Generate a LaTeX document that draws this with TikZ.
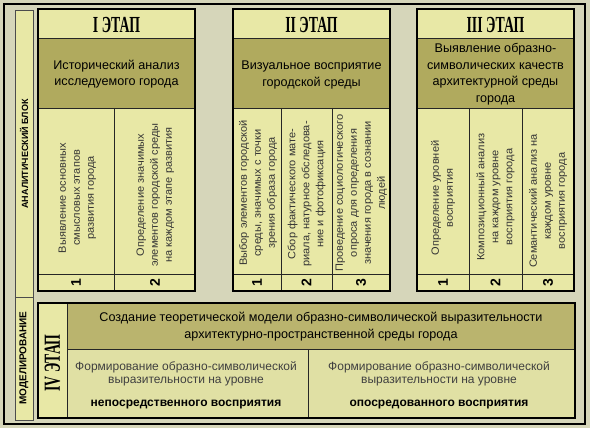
\documentclass[tikz,border=0pt]{standalone}
\usepackage{fontspec}
\setmainfont{Liberation Sans}
\newfontfamily\etapfont{Liberation Serif}
\usepackage{graphicx}
\usetikzlibrary{positioning}

\definecolor{bgcol}{RGB}{214,214,186}
\definecolor{lightcol}{RGB}{232,232,166}
\definecolor{olivecol}{RGB}{176,170,94}
\definecolor{olivelt}{RGB}{186,180,110}
\definecolor{cellcol}{RGB}{224,224,164}

\newcommand{\etaptxt}[1]{\scalebox{0.6}[1]{\etapfont\fontsize{23}{23}\selectfont\bfseries #1~ЭТАП}}
\newcommand{\vtxt}[1]{\scalebox{1.05}[1]{\begin{tabular}{@{}c@{}}#1\end{tabular}}}

\tikzset{
  panel/.style={draw=black, line width=2.2pt},
  grid/.style={draw=black!85, line width=0.9pt},
  strip/.style={fill=lightcol, draw=black!70, line width=0.7pt},
  etap/.style={inner sep=0pt},
  head/.style={align=center, font=\fontsize{12.6}{16.5}\selectfont},
  colt/.style={rotate=90, text=black!80, inner sep=0pt, font=\fontsize{10.5}{14}\selectfont},
  num/.style={rotate=90, inner sep=0pt, font=\fontsize{14}{14}\selectfont\bfseries},
  side/.style={rotate=90, inner sep=0pt, font=\fontsize{9}{9}\selectfont\bfseries},
  low/.style={align=center, text=black!75, font=\fontsize{12}{13}\selectfont}
}

\begin{document}
\begin{tikzpicture}[x=1pt, y=-1pt]
  \useasboundingbox (0,0) rectangle (590,428);
  \fill[bgcol] (0,0) rectangle (590,428);
  \draw[line width=2pt] (4,4) rectangle (585,424);

  % side strips
  \filldraw[strip] (15,10) rectangle (33,297);
  \filldraw[strip] (15,297) rectangle (33,420);
  \node[side] (analit) at (24,154) {АНАЛИТИЧЕСКИЙ БЛОК};
  \node[side, font=\fontsize{10}{10}\selectfont\bfseries] (model) at (24,358) {МОДЕЛИРОВАНИЕ};

  % I etap
  \fill[lightcol] (38,9) rectangle (195,291);
  \fill[olivecol] (38,38) rectangle (195,108);
  \draw[grid] (38,38) -- (195,38) (38,108) -- (195,108) (38,274) -- (195,274) (114,108) -- (114,291);
  \draw[panel] (38,9) rectangle (195,291);
  \node[etap] (t1) at (116.5,25) {\etaptxt{I}};
  \node[head] (h1) at (116.5,74) {Исторический анализ\\исследуемого города};
  \node[colt] (c11) at (77,198) {\vtxt{Выявление основных\\смысловых этапов\\развития города}};
  \node[colt] (c12) at (155,195) {\vtxt{Определение значимых\\элементов городской среды\\на каждом этапе развития}};
  \node[num] (n11) at (76,282.5) {1};
  \node[num] (n12) at (155,282.5) {2};

  % II etap
  \fill[lightcol] (233,9) rectangle (390,291);
  \fill[olivecol] (233,38) rectangle (390,108);
  \draw[grid] (233,38) -- (390,38) (233,108) -- (390,108) (233,274) -- (390,274);
  \foreach \x in {281,332} \draw[grid] (\x,108) -- (\x,291);
  \draw[panel] (233,9) rectangle (390,291);
  \node[etap] (t2) at (311.5,25) {\etaptxt{II}};
  \node[head] (h2) at (311.5,75) {Визуальное восприятие\\городской среды};
  \node[colt] (c21) at (258,193) {\vtxt{Выбор элементов городской\\среды, значимых с точки\\зрения образа города}};
  \node[colt] (c22) at (306.5,194) {\vtxt{Сбор фактического мате-\\риала, натурное обследова-\\ние и фотофиксация}};
  \node[colt] (c23) at (361,193) {\vtxt{Проведение социологического\\опроса для определения\\значения города в сознании\\людей}};
  \node[num] (n21) at (257,282.5) {1};
  \node[num] (n22) at (306.5,282.5) {2};
  \node[num] (n23) at (361,282.5) {3};

  % III etap
  \fill[lightcol] (417,9) rectangle (574,291);
  \fill[olivecol] (417,38) rectangle (574,108);
  \draw[grid] (417,38) -- (574,38) (417,108) -- (574,108) (417,274) -- (574,274);
  \foreach \x in {469,522} \draw[grid] (\x,108) -- (\x,291);
  \draw[panel] (417,9) rectangle (574,291);
  \node[etap] (t3) at (495.5,25) {\etaptxt{III}};
  \node[head] (h3) at (495.5,74) {Выявление образно-\\символических качеств\\архитектурной среды\\города};
  \node[colt] (c31) at (443,198) {\vtxt{Определение уровней\\восприятия}};
  \node[colt] (c32) at (495.5,197) {\vtxt{Композиционный анализ\\на каждом уровне\\восприятия города}};
  \node[colt] (c33) at (548,201) {\vtxt{Семантический анализ на\\каждом уровне\\восприятия города}};
  \node[num] (n31) at (443,282.5) {1};
  \node[num] (n32) at (495.5,282.5) {2};
  \node[num] (n33) at (548,282.5) {3};

  % IV etap
  \fill[lightcol] (38,303) rectangle (575,418);
  \fill[olivelt] (67,303) rectangle (575,349);
  \fill[cellcol] (67,349) rectangle (575,418);
  \draw[grid] (67,303) -- (67,418) (67,349) -- (575,349) (308,349) -- (308,418);
  \draw[panel] (38,303) rectangle (575,418);
  \node[etap, rotate=90] (t4) at (52.5,363) {\etaptxt{IV}};
  \node[head, font=\fontsize{12.6}{17}\selectfont] (h4) at (321,327) {Создание теоретической модели образно-символической выразительности\\архитектурно-пространственной среды города};
  \node[low] (f1) at (186,385) {Формирование образно-символической\\выразительности на уровне\\[10pt]\textcolor{black}{\bfseries непосредственного восприятия}};
  \node[low] (f2) at (439,385) {Формирование образно-символической\\выразительности на уровне\\[10pt]\textcolor{black}{\bfseries опосредованного восприятия}};
\end{tikzpicture}
\end{document}
